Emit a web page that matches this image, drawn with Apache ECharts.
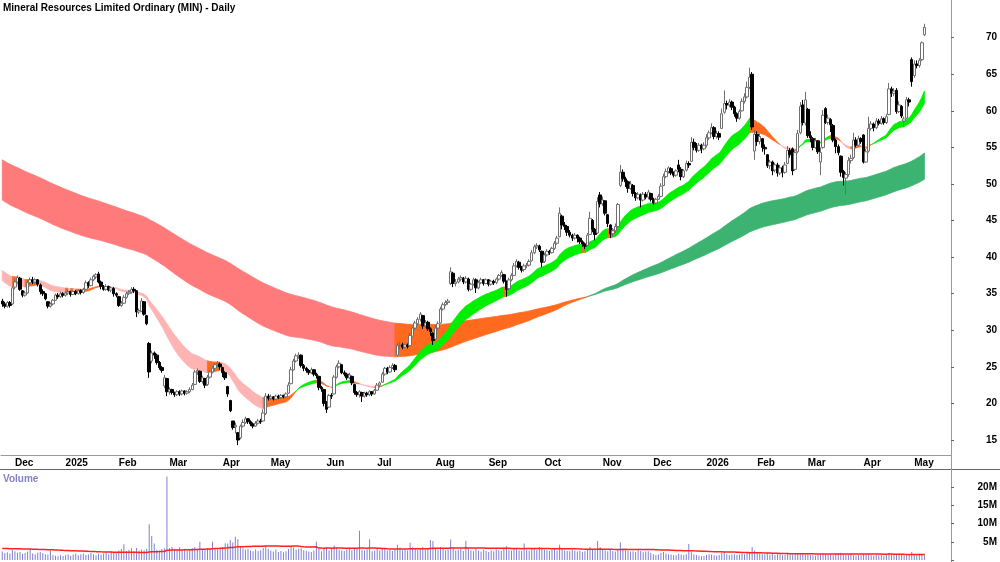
<!DOCTYPE html>
<html>
<head>
<meta charset="utf-8">
<script src="https://cdn.jsdelivr.net/npm/echarts@6/dist/echarts.min.js"></script>
<style>
  html, body { margin: 0; padding: 0; background: #fff; }
  #chart { width: 1000px; height: 562px; }
</style>
</head>
<body>
<div id="chart"></div>
<script>
// daily bars as [open, close, low, high], one array per month
const nov24 = [[34.0,33.6,33.2,34.3],[33.6,33.3,33.0,33.9],[33.3,33.8,33.1,34.0],[33.8,33.4,33.1,34.0],[33.6,35.8,33.5,36.0]];
const dec24 = [[35.9,36.6,35.6,37.0],[36.6,37.2,36.4,37.5],[37.1,35.6,35.4,37.3],[35.4,34.8,34.5,35.5],[34.8,35.1,34.6,35.4],
  [35.1,36.5,35.0,36.8],[36.5,36.9,36.2,37.2],[36.9,36.6,36.3,37.3],[36.6,36.9,36.3,37.1],[36.9,36.3,36.0,37.0],
  [36.2,35.3,34.9,36.4],[35.3,35.0,34.7,35.6],[35.0,34.3,34.1,35.1],[33.9,33.3,33.0,34.0],[33.3,33.6,33.1,33.8],
  [33.6,34.1,33.4,34.3],[34.1,34.8,34.0,35.0],[34.8,34.6,34.3,35.1],[34.6,35.0,34.4,35.3],[35.0,34.8,34.5,35.2]];
const jan25 = [[34.8,35.1,34.6,35.4],[35.1,35.3,34.8,35.6],[35.3,34.9,34.6,35.4],[34.9,35.3,34.8,35.5],[35.3,35.0,34.8,35.5],
  [35.0,35.4,34.9,35.6],[35.4,35.2,34.9,35.6],[35.2,35.6,35.0,35.8],[35.6,36.5,35.5,36.8],[36.5,36.1,35.8,36.7],
  [36.1,36.9,36.0,37.2],[36.9,37.4,36.7,37.6],[37.3,37.6,37.0,37.8],[37.7,36.6,36.4,38.0],[36.6,36.0,35.6,36.8],
  [36.0,35.6,35.4,36.2],[35.6,36.0,35.4,36.3],[36.0,35.5,35.3,36.1],[35.5,35.8,35.2,36.0],[35.7,35.0,34.6,35.9],
  [35.0,34.8,34.5,35.2]];
const feb25 = [[34.6,33.4,33.2,34.7],[33.4,33.7,33.2,34.0],[33.7,34.5,33.6,34.8],[34.5,35.0,34.3,35.3],[35.0,35.2,34.8,35.5],
  [35.2,35.6,35.0,35.9],[35.6,35.4,35.1,35.9],[35.4,32.5,31.8,35.5],[32.5,32.7,32.2,33.0],[32.6,34.0,32.5,34.4],
  [33.9,32.2,32.0,34.0],[32.0,30.9,30.7,32.1],[28.2,24.3,23.5,28.4],[25.8,26.9,25.5,27.2],[26.9,26.6,26.1,27.1],
  [26.6,25.6,25.3,26.8],[25.6,24.9,24.6,25.8],[24.9,24.5,24.2,25.1],[22.4,23.5,22.1,23.9],[23.4,21.6,21.0,23.5]];
const mar25 = [[21.6,21.9,21.2,22.2],[21.9,21.5,21.2,22.0],[21.5,21.2,20.9,21.6],[21.2,21.6,21.0,21.8],[21.6,21.3,21.0,21.8],
  [21.3,21.7,21.1,21.9],[21.7,21.4,21.1,21.8],[21.4,21.6,21.2,21.8],[21.6,21.9,21.4,22.2],[21.9,22.5,21.8,22.8],
  [22.6,24.3,22.5,24.6],[24.3,24.5,23.9,24.8],[24.4,23.0,22.8,24.5],[23.0,23.5,22.7,23.8],[23.4,22.5,22.1,23.5],
  [22.6,23.6,22.4,23.9],[23.6,24.3,23.4,24.6],[24.3,24.8,24.1,25.1],[24.8,25.3,24.4,25.5],[25.3,25.5,25.0,25.8],
  [25.4,25.0,24.6,25.6]];
const apr25 = [[24.9,24.2,23.6,25.0],[24.2,23.5,23.2,24.4],[22.3,21.3,20.9,22.4],[20.4,19.0,18.8,20.5],[17.6,16.7,16.4,17.6],
  [16.8,17.0,15.9,17.4],[16.0,15.0,14.3,16.1],[15.3,16.9,15.1,17.1],[16.9,17.4,16.7,17.8],[17.4,17.9,17.2,18.2],
  [17.9,17.5,17.2,18.0],[17.5,17.2,16.9,17.7],[17.2,16.9,16.6,17.4],[16.9,17.3,16.8,17.6],[17.3,17.6,17.1,17.9],
  [17.6,17.5,17.2,17.9],[17.6,18.7,17.5,19.2],[18.6,21.0,18.4,21.4],[21.0,20.7,20.4,21.3]];
const may25 = [[20.7,20.9,20.5,21.2],[20.9,20.6,20.4,21.0],[20.6,21.0,20.5,21.2],[21.0,20.8,20.6,21.2],[20.8,21.1,20.6,21.3],
  [21.1,20.9,20.7,21.2],[20.9,21.3,20.8,21.5],[21.4,22.5,21.3,22.9],[22.7,24.6,22.6,25.0],[24.6,25.8,24.5,26.1],
  [25.8,26.5,25.6,26.8],[26.4,26.6,26.1,27.0],[26.6,25.2,24.9,26.7],[25.2,24.8,24.4,25.4],[24.8,24.5,24.2,25.0],
  [24.5,24.2,23.9,24.7],[24.2,24.6,24.0,24.9],[24.6,24.0,23.7,24.7],[24.0,23.8,23.4,24.2],[23.7,22.2,21.8,23.8],
  [22.2,22.0,21.6,22.4],[21.9,20.0,19.6,22.0]];
const jun25 = [[20.2,19.2,18.7,20.3],[19.5,21.1,19.4,21.3],[21.1,21.0,20.6,21.4],[21.3,23.6,21.2,23.9],[23.6,25.0,23.4,25.3],
  [25.0,25.5,24.8,25.9],[25.3,24.2,24.0,25.4],[24.2,24.0,23.7,24.5],[24.0,23.5,23.2,24.2],[23.5,23.9,23.3,24.2],
  [23.7,22.8,22.5,23.8],[22.6,21.5,21.2,22.7],[21.5,21.2,20.9,21.7],[21.2,21.6,20.8,21.8],[21.5,21.0,20.2,21.6],
  [21.0,21.4,20.8,21.6],[21.4,21.2,20.9,21.6],[21.2,21.6,21.0,21.8],[21.6,21.3,21.0,21.7],[21.3,21.8,21.2,22.0]];
const jul25 = [[21.8,22.5,21.7,22.8],[22.5,22.8,22.2,23.0],[22.9,24.0,22.8,24.3],[24.0,24.8,23.8,25.0],[24.8,24.3,24.0,25.0],
  [24.3,24.9,24.2,25.2],[24.9,25.2,24.7,25.5],[25.2,24.6,24.3,25.4],[26.6,27.9,26.4,28.3],[27.9,28.0,27.4,28.4],
  [28.0,27.7,27.4,28.3],[27.7,28.0,27.5,28.2],[28.0,27.8,27.5,28.2],[27.9,29.3,27.8,29.6],[29.2,30.3,29.1,30.5],
  [30.3,31.0,30.0,31.3],[30.9,31.5,30.6,31.8],[31.5,32.2,31.2,32.5],[32.0,30.6,30.2,32.1],[30.6,31.0,30.3,31.4],
  [31.1,30.2,29.9,31.3],[30.2,29.8,29.2,30.4],[29.6,28.6,28.0,29.7]];
const aug25 = [[28.8,30.3,28.7,30.7],[30.3,30.9,30.1,31.2],[31.0,32.9,30.9,33.2],[32.9,33.5,32.7,33.8],[33.5,33.8,33.3,34.1],
  [33.8,34.0,33.5,34.3],[36.4,38.0,36.2,38.6],[37.8,36.4,35.9,38.0],[36.4,36.6,36.0,37.0],[36.6,37.0,36.4,37.3],
  [37.0,37.2,36.7,37.5],[37.1,36.6,36.3,37.3],[36.6,37.1,36.4,37.4],[37.0,35.6,35.3,37.2],[35.6,36.3,35.4,36.5],
  [36.3,36.9,36.1,37.2],[36.9,35.8,35.1,37.1],[35.8,36.5,35.6,36.8],[36.5,36.9,36.3,37.2],[36.9,36.4,36.1,37.0],
  [36.4,36.9,36.3,37.1]];
const sep25 = [[36.9,36.3,36.0,37.0],[36.3,36.7,36.1,36.9],[36.7,36.5,36.2,36.9],[36.5,37.0,36.3,37.2],[37.0,37.5,36.8,37.7],
  [37.5,37.9,37.3,38.2],[37.6,36.7,36.4,37.7],[36.7,35.6,34.6,36.8],[35.7,36.9,35.5,37.2],[36.9,37.5,36.7,37.8],
  [37.5,38.8,37.4,39.2],[38.8,39.4,38.6,39.7],[39.3,38.6,38.3,39.5],[38.6,38.2,37.9,38.8],[38.3,38.8,38.0,39.1],
  [38.8,38.9,38.5,39.2],[38.9,39.4,38.7,39.7],[39.5,40.6,39.4,41.0],[40.6,41.4,40.4,41.7],[41.4,41.6,41.1,41.9],
  [41.5,41.0,40.7,41.7],[40.8,39.3,38.6,40.9]];
const oct25 = [[39.4,40.3,39.2,40.6],[40.3,40.8,40.1,41.1],[40.8,40.6,40.3,41.0],[40.6,41.2,40.5,41.4],[41.2,41.9,41.0,42.2],
  [41.9,42.6,41.7,42.9],[42.8,46.0,42.7,46.8],[45.6,44.4,43.8,45.8],[44.4,44.2,43.7,44.8],[44.2,43.4,42.9,44.4],
  [43.4,43.0,42.7,43.7],[43.0,42.6,42.2,43.2],[42.6,43.0,42.4,43.3],[43.0,42.6,42.0,43.1],[42.6,42.1,41.8,42.8],
  [42.1,41.8,41.4,42.3],[41.8,41.5,41.1,42.0],[41.6,43.0,41.5,43.3],[43.1,45.3,43.0,46.2],[45.0,43.8,43.4,45.2],
  [43.8,43.1,42.3,44.0],[43.3,47.6,43.2,48.2],[48.5,47.3,46.8,48.9]];
const nov25 = [[47.3,47.8,47.0,48.3],[47.7,46.0,45.7,47.8],[45.8,44.6,44.1,45.9],[44.4,43.2,42.6,44.5],[43.2,43.6,42.8,44.0],
  [43.6,44.2,43.3,44.6],[44.2,47.2,44.0,47.4],[49.8,51.6,49.6,52.6],[51.6,50.7,50.3,52.0],[50.7,50.3,49.6,51.0],
  [50.3,49.4,48.8,50.5],[49.4,50.0,49.2,50.4],[49.8,48.7,48.3,50.0],[48.7,48.1,47.7,48.9],[48.1,48.6,47.9,48.9],
  [48.5,47.8,46.8,48.7],[47.8,48.6,47.6,48.9],[48.6,48.2,47.9,48.9],[48.2,48.9,47.9,49.2],[48.7,47.9,47.6,48.8]];
const dec25 = [[47.9,47.4,47.1,48.1],[47.4,47.9,47.2,48.1],[47.9,48.3,47.8,48.6],[48.3,49.7,48.2,50.1],[49.8,51.0,49.7,51.4],
  [51.0,51.7,50.8,52.1],[51.7,52.2,51.4,52.4],[52.1,51.5,51.2,52.3],[51.5,51.2,50.9,51.7],[51.2,51.8,51.0,52.0],
  [52.6,52.0,51.6,53.3],[52.0,51.0,50.5,52.3],[51.0,51.8,50.8,52.0],[51.9,52.8,51.7,53.2],[52.8,52.6,52.2,53.1],
  [53.1,55.7,53.0,56.4],[55.7,55.0,54.6,56.2],[55.2,54.6,54.3,55.6],[54.6,55.3,54.4,55.6],[55.3,54.8,54.2,55.5],
  [54.8,55.3,54.6,55.7]];
const jan26 = [[55.3,56.3,55.0,56.8],[56.3,57.0,56.0,57.3],[57.0,57.7,56.8,58.3],[57.7,56.5,56.1,57.9],[56.5,56.9,56.2,57.3],
  [56.9,56.4,56.0,57.2],[57.6,59.6,57.5,60.3],[59.8,61.0,59.6,62.8],[61.0,60.8,60.2,61.4],[60.8,61.2,60.5,61.6],
  [61.2,60.5,60.1,61.4],[60.5,59.6,59.2,60.7],[59.6,59.0,58.5,59.8],[59.0,59.9,58.8,60.2],[60.0,61.3,59.9,61.7],
  [61.3,61.9,61.0,62.4],[61.9,63.2,61.7,64.0],[63.2,64.6,63.0,65.9],[65.0,57.8,57.4,65.3],[54.5,56.8,53.3,57.4]];
const feb26 = [[56.8,55.8,55.2,57.2],[55.8,56.5,55.4,56.9],[56.2,55.0,54.4,56.3],[55.0,54.8,54.0,55.4],[54.0,52.5,52.2,54.1],
  [52.5,53.0,52.0,53.3],[53.0,51.8,51.2,53.2],[51.9,52.6,51.6,52.9],[52.6,51.5,51.0,52.9],[51.5,52.2,51.2,52.6],
  [52.2,51.6,50.9,52.5],[51.6,52.6,51.4,53.0],[52.8,54.6,52.7,55.2],[54.6,54.0,53.6,54.9],[54.8,51.8,51.2,55.0],
  [52.0,54.3,51.8,54.6],[54.4,56.9,54.2,57.4],[57.0,60.6,56.8,61.2],[60.8,58.4,58.0,61.5],[58.3,61.5,58.0,62.6]];
const mar26 = [[60.2,56.6,56.3,60.4],[56.6,56.3,55.7,57.2],[56.2,55.0,54.6,56.4],[55.0,55.9,54.8,56.3],[55.9,54.4,54.1,56.0],
  [53.0,54.3,51.2,55.0],[55.0,59.4,54.8,60.1],[60.3,58.4,58.2,60.5],[58.4,59.0,58.1,59.5],[58.8,58.1,57.1,59.0],
  [58.0,56.0,55.7,58.2],[56.0,55.1,54.2,56.2],[55.1,54.3,53.9,55.4],[53.8,51.6,51.0,53.9],[51.7,50.9,49.8,51.9],
  [50.8,51.3,48.5,51.6],[51.3,53.2,51.0,53.7],[53.2,53.5,52.8,54.0],[53.6,56.0,53.4,57.0],[56.0,55.3,55.0,56.4],
  [55.3,56.2,55.1,56.6],[56.2,55.8,55.5,56.4]];
const apr26 = [[56.7,53.0,52.8,56.8],[53.0,54.4,52.9,54.8],[54.5,57.6,54.3,59.2],[57.6,58.2,57.3,58.6],[58.2,57.7,57.2,58.4],
  [57.7,58.6,57.5,59.0],[58.6,58.3,58.0,58.9],[58.3,58.9,58.1,59.3],[58.9,58.4,58.1,59.1],[58.4,59.2,58.2,59.6],
  [59.5,63.0,59.4,63.8],[63.0,62.4,61.9,63.3],[62.4,62.7,62.0,63.1],[62.8,59.9,59.6,63.1],[59.9,60.8,59.7,61.3],
  [60.6,59.3,59.0,60.8],[58.6,58.9,57.8,59.2],[59.0,61.5,58.9,61.9],[61.5,61.2,60.6,61.8],[67.0,64.0,63.3,67.3]];
const may26 = [[64.8,66.4,64.5,66.9],[66.4,66.2,65.8,66.9],[66.2,66.9,65.9,67.2],[67.0,69.3,66.8,69.5],[70.4,71.4,70.2,71.9]];

// daily volume, millions of shares
const volNov24 = [2.3,1.9,2.1,1.8,2.8];
const volDec24 = [2.4,2.0,2.2,1.7,1.9,2.3,3.1,1.8,1.6,2.0,2.2,1.9,1.6,1.5,2.6,1.4,1.2,1.0,1.3,1.1];
const volJan25 = [1.4,1.6,1.2,1.5,1.7,1.3,1.6,1.8,1.4,1.5,1.9,1.6,1.3,1.7,1.5,1.8,2.0,1.6,2.4,2.2,2.0];
const volFeb25 = [2.6,3.0,4.3,2.5,2.8,3.2,2.4,3.3,2.6,2.9,2.7,3.1,9.8,6.6,4.5,2.8,2.6,3.0,3.2,22.9];
const volMar25 = [3.3,3.6,3.0,2.8,3.4,2.9,3.1,2.6,3.0,3.3,3.5,2.9,5.0,3.1,2.7,3.2,3.0,5.0,3.2,2.9,3.4];
const volApr25 = [3.6,4.6,4.5,5.5,4.8,6.4,5.7,3.8,3.2,2.8,3.0,2.6,2.4,2.9,2.5,2.7,3.3,4.0,3.1];
const volMay25 = [2.6,2.3,2.9,2.2,2.5,2.1,2.4,3.0,3.6,3.4,2.8,3.1,3.2,2.7,2.5,2.3,2.2,2.6,5.0,3.0,2.4,3.2];
const volJun25 = [3.4,2.6,3.0,4.0,3.3,2.8,2.6,2.5,2.9,3.4,2.7,3.0,3.2,8.0,2.8,2.6,2.9,5.7,2.4,2.6];
const volJul25 = [3.0,2.7,3.3,3.1,2.6,2.8,2.5,2.9,4.2,3.4,2.7,2.9,2.6,4.7,3.5,3.1,2.8,3.3,3.6,2.9,3.0,5.5,5.2];
const volAug25 = [3.3,2.8,3.6,3.0,2.7,2.9,5.6,3.4,2.6,2.8,3.0,2.5,5.3,3.2,2.7,2.4,3.1,2.6,2.3,2.8,2.5];
const volSep25 = [2.2,2.6,2.4,2.9,2.7,2.5,3.4,3.8,2.8,2.6,3.1,3.0,2.7,2.5,4.5,2.9,2.6,3.2,3.0,2.8,3.6,3.3];
const volOct25 = [2.9,2.7,2.5,2.8,3.0,2.6,4.2,3.3,2.7,2.5,2.4,2.8,2.6,2.3,2.5,2.2,2.4,3.1,3.6,2.9,2.7,5.2,3.5];
const volNov25 = [2.8,2.6,2.4,2.9,2.5,2.3,3.0,4.9,3.2,2.6,2.5,2.3,2.4,2.2,2.6,2.5,2.1,2.3,2.4,2.0];
const volDec25 = [1.6,1.4,1.5,2.0,2.2,1.8,1.6,1.5,1.4,1.3,1.7,1.5,1.4,1.6,4.4,2.1,1.6,1.4,1.2,1.0,1.1];
const volJan26 = [1.4,1.6,1.5,1.3,1.2,1.4,2.0,2.3,1.6,1.4,1.5,1.6,1.4,1.5,1.7,1.6,1.9,2.2,3.6,2.6];
const volFeb26 = [2.2,1.8,1.7,1.6,1.9,1.5,1.7,1.4,1.6,1.5,1.3,1.4,1.8,1.6,1.5,1.9,1.7,1.6,1.8,1.5];
const volMar26 = [1.6,1.4,1.3,1.2,1.4,1.5,1.8,1.6,1.4,1.5,1.3,1.7,1.9,2.0,1.6,1.4,1.5,1.7,1.3,1.2,1.4,1.3];
const volApr26 = [1.7,1.4,1.6,1.3,1.2,1.4,1.3,1.5,1.2,1.4,1.9,1.6,1.3,1.5,1.4,1.6,1.3,1.5,1.4,2.2];
const volMay26 = [1.5,1.3,1.4,1.6,1.7];

// trading calendar
const firstDay = '2024-11-25';
const holidays = ['2024-12-25','2024-12-26','2025-01-01','2025-01-27','2025-04-18','2025-04-21','2025-04-25',
  '2025-06-09','2025-12-25','2025-12-26','2026-01-01','2026-01-26','2026-04-03','2026-04-06'];
const blankDays = 10;

// axis ticks
const priceTicks = [15,20,25,30,35,40,45,50,55,60,65,70];
const volumeTicks = [5,10,15,20];
const monthNames = ['Jan','Feb','Mar','Apr','May','Jun','Jul','Aug','Sep','Oct','Nov','Dec'];

// moving-average bands: periods and their values on the first bar
const shortPeriods = [22, 34];
const shortSeed = [36.8, 38.2];
const longPeriods = [130, 200];
const longSeed = [47.8, 53.3];
const volumeAvgPeriod = 60;
const volumeAvgSeed = 3.2;

const candles = [].concat(nov24, dec24, jan25, feb25, mar25, apr25, may25, jun25, jul25, aug25, sep25, oct25,
  nov25, dec25, jan26, feb26, mar26, apr26, may26);
const volumes = [].concat(volNov24, volDec24, volJan25, volFeb25, volMar25, volApr25, volMay25, volJun25, volJul25,
  volAug25, volSep25, volOct25, volNov25, volDec25, volJan26, volFeb26, volMar26, volApr26, volMay26);
const closes = candles.map(c => c[1]);

function tradingDays(start, count) {
  const out = [];
  const d = new Date(start + 'T00:00:00Z');
  while (out.length < count) {
    const s = d.toISOString().slice(0, 10);
    const wd = d.getUTCDay();
    if (wd !== 0 && wd !== 6 && holidays.indexOf(s) < 0) out.push(s);
    d.setUTCDate(d.getUTCDate() + 1);
  }
  return out;
}
const dates = tradingDays(firstDay, candles.length + blankDays);

function ema(values, period, seed) {
  const k = 2 / (period + 1);
  let e = seed;
  return values.map((v, i) => { if (i > 0) e += k * (v - e); return e; });
}

function movingAverage(values, period, seed) {
  const win = new Array(period).fill(seed);
  let sum = seed * period;
  return values.map(v => { sum += v - win.shift(); win.push(v); return sum / period; });
}

// runs of bars in one state: 0 = falling, 1 = mixed, 2 = rising
function bandRuns(fast, slow) {
  const runs = [];
  for (let i = 0; i + 1 < fast.length; i++) {
    const rising = fast[i + 1] >= fast[i];
    let state = 1;
    if (fast[i + 1] > slow[i + 1] && rising) state = 2;
    else if (fast[i + 1] < slow[i + 1] && !rising) state = 0;
    const last = runs[runs.length - 1];
    if (last && last[2] === state) last[1] = i + 1;
    else runs.push([i, i + 1, state]);
  }
  return runs;
}

function bandSeries(fast, slow, palette, z) {
  return {
    type: 'custom',
    z: z,
    silent: true,
    clip: true,
    xAxisIndex: 0,
    yAxisIndex: 0,
    encode: { x: [0, 1] },
    renderItem: function (params, api) {
      const a = api.value(0), b = api.value(1);
      const col = palette[api.value(2)];
      const pts = [];
      for (let i = a; i <= b; i++) pts.push(api.coord([i, fast[i]]));
      for (let i = b; i >= a; i--) pts.push(api.coord([i, slow[i]]));
      return { type: 'polygon', shape: { points: pts }, style: { fill: col, stroke: col, lineWidth: 0.8 } };
    },
    data: bandRuns(fast, slow)
  };
}

const shortFast = ema(closes, shortPeriods[0], shortSeed[0]);
const shortSlow = ema(closes, shortPeriods[1], shortSeed[1]);
const longFast = ema(closes, longPeriods[0], longSeed[0]);
const longSlow = ema(closes, longPeriods[1], longSeed[1]);
const volumeAvg = movingAverage(volumes, volumeAvgPeriod, volumeAvgSeed);

const isMonthStart = (index) => index > 0 && dates[index].slice(0, 7) !== dates[index - 1].slice(0, 7);
const font = 'Liberation Sans, Arial, sans-serif';

const chart = echarts.init(document.getElementById('chart'));
chart.setOption({
  animation: false,
  backgroundColor: '#fff',
  textStyle: { fontFamily: font },
  title: [
    { text: 'Mineral Resources Limited Ordinary (MIN) - Daily', left: 3, top: 3, padding: 0,
      textStyle: { fontSize: 10, fontWeight: 'bold', color: '#000', fontFamily: font } },
    { text: 'Volume', left: 3, top: 474, padding: 0,
      textStyle: { fontSize: 10, fontWeight: 'bold', color: '#8282c4', fontFamily: font } }
  ],
  grid: [
    { left: 1, right: 49, top: 0, bottom: 107 },
    { left: 1, right: 49, top: 470, bottom: 2 }
  ],
  xAxis: [
    {
      type: 'category', gridIndex: 0, data: dates, boundaryGap: true,
      axisLine: { lineStyle: { color: '#9a9a9a', width: 1 } },
      axisTick: { interval: isMonthStart, length: 3, lineStyle: { color: '#666' } },
      axisLabel: {
        interval: isMonthStart, align: 'left', margin: 3, fontSize: 10, fontWeight: 'bold', color: '#000',
        formatter: v => { const m = +v.slice(5, 7); return m === 1 ? v.slice(0, 4) : monthNames[m - 1]; }
      },
      splitLine: { show: false }
    },
    { type: 'category', gridIndex: 1, data: dates, boundaryGap: true, show: false }
  ],
  yAxis: [
    {
      type: 'value', gridIndex: 0, position: 'right', min: 12.95, max: 75.15, scale: true,
      axisLine: { show: true, lineStyle: { color: '#9a9a9a' } },
      axisTick: { show: true, length: 3, customValues: priceTicks, lineStyle: { color: '#666' } },
      axisLabel: { customValues: priceTicks, align: 'right', margin: 46, fontSize: 10, fontWeight: 'bold', color: '#000' },
      splitLine: { show: false }
    },
    {
      type: 'value', gridIndex: 1, position: 'right', min: 0, max: 24.7,
      axisLine: { show: true, lineStyle: { color: '#9a9a9a' } },
      axisTick: { show: true, length: 3, customValues: [0].concat(volumeTicks), lineStyle: { color: '#666' } },
      axisLabel: { customValues: volumeTicks, align: 'right', margin: 46, fontSize: 10, fontWeight: 'bold', color: '#000',
        formatter: v => v + 'M' },
      splitLine: { show: false }
    }
  ],
  graphic: [
    { type: 'line', shape: { x1: 0, y1: 469.5, x2: 1000, y2: 469.5 }, style: { stroke: '#666', lineWidth: 1 }, silent: true },
    { type: 'line', shape: { x1: 951.5, y1: 0, x2: 951.5, y2: 562 }, style: { stroke: '#9a9a9a', lineWidth: 1 }, silent: true }
  ],
  series: [
    bandSeries(longFast, longSlow, ['#ff7b7b', '#ff6a1f', '#3cb371'], 1),
    bandSeries(shortFast, shortSlow, ['#ffb4b4', '#ff6a1f', '#00ee00'], 2),
    {
      type: 'candlestick', xAxisIndex: 0, yAxisIndex: 0, z: 3, barWidth: 3,
      itemStyle: { color: '#fff', color0: '#000', borderColor: '#707070', borderColor0: '#000', borderWidth: 1 },
      data: candles
    },
    {
      type: 'bar', xAxisIndex: 1, yAxisIndex: 1, barWidth: 1, silent: true,
      itemStyle: { color: '#8080d0' },
      data: volumes
    },
    {
      type: 'line', xAxisIndex: 1, yAxisIndex: 1, symbol: 'none', silent: true,
      lineStyle: { color: '#ff2020', width: 1.5 },
      data: volumeAvg
    }
  ]
});
</script>
</body>
</html>
